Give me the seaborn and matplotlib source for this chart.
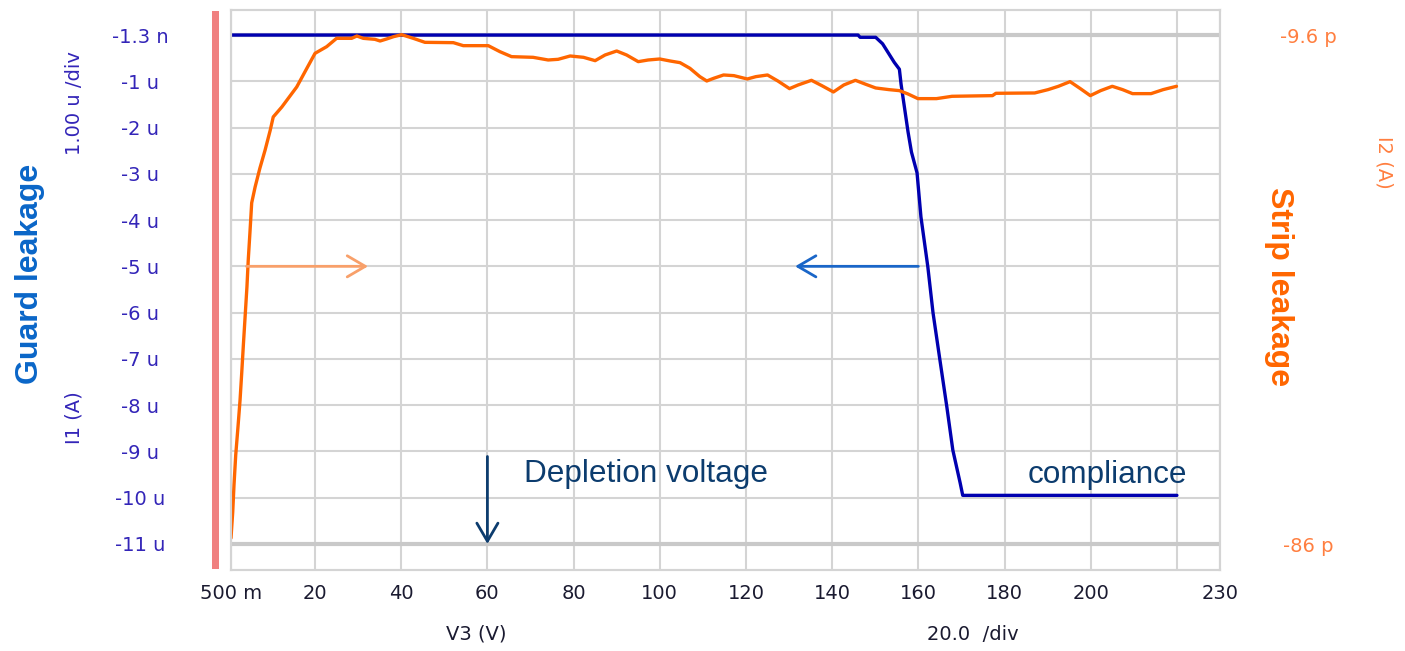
import numpy as np
import pandas as pd
import matplotlib
matplotlib.use("Agg")
import matplotlib.pyplot as plt
import seaborn as sns
from matplotlib.patches import Rectangle

# ---- sweep data -------------------------------------------------------
# Guard ring current I1 (uA) versus bias V3 (V)
guard_v = [0.5, 146.0, 146.5, 150.1, 151.7, 154.4, 155.6, 156.0, 156.8, 157.6,
           158.4, 159.7, 160.6, 162.2, 163.4, 165.0, 166.6, 168.0, 169.7, 170.3,
           220.0]
guard_i = [-0.0013, -0.0013, -0.05, -0.05, -0.19, -0.59, -0.74, -1.07, -1.58, -2.09,
           -2.53, -2.98, -3.93, -5.01, -6.00, -7.02, -8.03, -8.97, -9.68, -9.95,
           -9.95]

# Strip current I2 (pA) versus bias V3 (V)
strip_v = [0.5, 0.9, 1.2, 1.6, 2.1, 2.6, 3.0, 3.4, 3.8, 4.2,
           4.5, 4.9, 5.3, 6.1, 7.2, 8.4, 9.6, 10.3, 12.3, 15.75,
           18.1, 20.0, 22.7, 25.0, 28.5, 29.7, 31.2, 33.9, 35.1, 36.6,
           38.2, 40.1, 42.8, 45.5, 52.1, 54.4, 60.2, 62.9, 65.6, 70.6,
           74.1, 76.4, 79.2, 82.3, 85.0, 87.3, 90.0, 92.3, 95.0, 97.3,
           100.0, 102.4, 104.7, 107.0, 109.3, 110.9, 112.5, 114.8, 117.2, 120.3,
           122.3, 125.0, 127.4, 130.1, 132.1, 135.2, 137.6, 140.3, 142.7, 145.4,
           147.8, 150.1, 153.2, 155.6, 157.6, 159.9, 164.2, 167.8, 177.2, 178.0,
           187.0, 190.1, 192.5, 195.2, 197.6, 199.9, 202.3, 205.0, 207.4, 209.7,
           214.0, 216.8, 219.9]
strip_i = [-85.1, -81.2, -77.1, -72.6, -68.6, -64.4, -60.2, -55.8, -51.6, -47.4,
           -43.4, -39.2, -34.8, -32.4, -29.6, -26.9, -23.9, -21.9, -20.4, -17.4,
           -14.6, -12.35, -11.35, -10.1, -10.1, -9.75, -10.1, -10.25, -10.5, -10.2,
           -9.85, -9.55, -10.1, -10.7, -10.75, -11.2, -11.2, -12.1, -12.85, -12.95,
           -13.35, -13.25, -12.75, -12.95, -13.45, -12.6, -12.0, -12.6, -13.6, -13.35,
           -13.2, -13.5, -13.75, -14.6, -15.85, -16.5, -16.1, -15.6, -15.7, -16.2,
           -15.85, -15.6, -16.5, -17.65, -17.1, -16.4, -17.2, -18.15, -17.1, -16.4,
           -17.0, -17.55, -17.8, -17.95, -18.45, -19.15, -19.15, -18.8, -18.7, -18.35,
           -18.3, -17.8, -17.3, -16.6, -17.65, -18.7, -17.95, -17.3, -17.8, -18.4,
           -18.4, -17.8, -17.3]

# ---- axis ticks ---------------------------------------------------------
x_ticks = [0.5, 20, 40, 60, 80, 100, 120, 140, 160, 180, 200, 220, 230]
x_labels = ["500 m", "20", "40", "60", "80", "100", "120", "140", "160",
            "180", "200", "", "230"]
i1_ticks = [-0.0013, -1, -2, -3, -4, -5, -6, -7, -8, -9, -10, -11]
i1_labels = ["-1.3 n", "-1 u", "-2 u", "-3 u", "-4 u", "-5 u", "-6 u",
             "-7 u", "-8 u", "-9 u", "-10 u", "-11 u"]
i2_ticks = [-9.6, -86]
i2_labels = ["-9.6 p", "-86 p"]

guard_df = pd.DataFrame({"V3": guard_v, "I1": guard_i})
strip_df = pd.DataFrame({"V3": strip_v, "I2": strip_i})

# ---- styling ------------------------------------------------------------
sns.set_theme(style="white")
plt.rcParams["font.family"] = ["DejaVu Sans"]

W, H = 1405, 651
fig = plt.figure(figsize=(W / 100, H / 100), dpi=100)
fig.patch.set_facecolor("white")

ax_l, ax_r, ax_t, ax_b = 231, 1220, 10, 570
ax = fig.add_axes([ax_l / W, 1 - ax_b / H, (ax_r - ax_l) / W, (ax_b - ax_t) / H])

grid_col = "#d4d4d4"
blue = "#0000b0"
orange = "#ff6600"
i1_col = "#3325b8"
i2_col = "#ff7f40"
note_col = "#0c3c6e"

sns.lineplot(data=guard_df, x="V3", y="I1", ax=ax, color=blue, lw=2.4,
             estimator=None, sort=False)
ax.set_xlim(0.5, 230)
ax.set_ylim(-11.563, 0.540)
ax.set_xlabel("")
ax.set_ylabel("")

ax.set_xticks(x_ticks)
ax.set_xticklabels(x_labels)
ax.set_yticks(i1_ticks)
ax.set_yticklabels(i1_labels)
ax.grid(True, color=grid_col, lw=1.5)
ax.set_axisbelow(True)
ygl = ax.yaxis.get_gridlines()
for g in (ygl[0], ygl[-1]):
    g.set_linewidth(3.0)
    g.set_color("#c9c9c9")

ax.tick_params(axis="x", length=0, pad=10, labelsize=14, labelcolor="#1a1a30")
ax.tick_params(axis="y", length=0, pad=65.5, labelsize=14, labelcolor=i1_col)
for lbl in ax.get_yticklabels():
    lbl.set_ha("center")

ax2 = ax.twinx()
sns.lineplot(data=strip_df, x="V3", y="I2", ax=ax2, color=orange, lw=2.4,
             estimator=None, sort=False)
ax2.set_ylim(-89.90, -5.847)
ax2.set_xlim(0.5, 230)
ax2.set_ylabel("")
ax2.set_xlabel("")
ax2.grid(False)
ax2.set_yticks(i2_ticks)
ax2.set_yticklabels(i2_labels)
ax2.tick_params(axis="y", length=0, pad=63.5, labelsize=14, labelcolor=i2_col)
for lbl in ax2.get_yticklabels():
    lbl.set_ha("center")

for a in (ax, ax2):
    for s in a.spines.values():
        s.set_color(grid_col)
        s.set_linewidth(1.5)

# ---- annotations ----------------------------------------------------------
def arrow(x0, y0, x1, y1, col):
    ax2.annotate("", xy=(x1, y1), xytext=(x0, y0),
                 xycoords=ax.transData, textcoords=ax.transData,
                 arrowprops=dict(arrowstyle="->,head_length=0.65,head_width=0.38",
                                 color=col, lw=2.0, shrinkA=0, shrinkB=0,
                                 mutation_scale=20))

arrow(4.1, -5.0, 32.3, -5.0, "#f8a06a")
arrow(160.0, -5.0, 131.4, -5.0, "#1a66c8")
arrow(60.0, -9.11, 60.0, -11.0, note_col)

ax2.text(68.5, -9.66, "Depletion voltage", transform=ax.transData,
         fontsize=22.7, color=note_col, family="Liberation Sans",
         ha="left", va="baseline")
ax2.text(185.4, -9.68, "compliance", transform=ax.transData,
         fontsize=22.7, color=note_col, family="Liberation Sans",
         ha="left", va="baseline")

fig.text(30 / W, 1 - 274 / H, "Guard leakage", rotation=90, fontsize=23,
         fontweight="bold", color="#0a66c8", family="Liberation Sans",
         ha="center", va="center")
fig.text(1279 / W, 1 - 287 / H, "Strip leakage", rotation=270, fontsize=23,
         fontweight="bold", color=orange, family="Liberation Sans",
         ha="center", va="center")
fig.text(74 / W, 1 - 103 / H, "1.00 u /div", rotation=90, fontsize=14,
         color=i1_col, ha="center", va="center")
fig.text(74 / W, 1 - 418 / H, "I1 (A)", rotation=90, fontsize=14,
         color=i1_col, ha="center", va="center")
fig.text(1384 / W, 1 - 162 / H, "I2 (A)", rotation=270, fontsize=14,
         color=i2_col, ha="center", va="center")
fig.text(476 / W, 1 - 634 / H, "V3 (V)", fontsize=14, color="#1a1a30",
         ha="center", va="center")
fig.text(973 / W, 1 - 634 / H, "20.0  /div", fontsize=14, color="#1a1a30",
         ha="center", va="center")

# marker bar beside the current axis
fig.add_artist(Rectangle((212 / W, 1 - 569 / H), 7 / W, 558 / H,
                         transform=fig.transFigure, color="#f08080", lw=0))

fig.savefig("out.png", dpi=100, facecolor="white")
